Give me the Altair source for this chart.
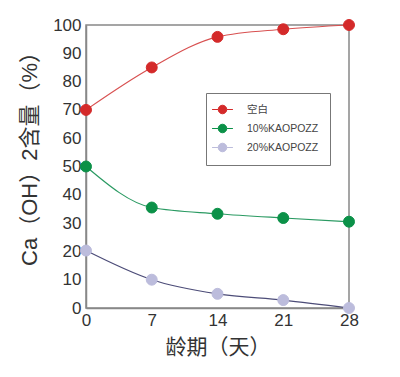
import altair as alt
import pandas as pd

days = [0, 7, 14, 21, 28]
series_names = ["空白", "10%KAOPOZZ", "20%KAOPOZZ"]
blank = [70, 85, 95.8, 98.5, 100]
kao10 = [50, 35.5, 33.3, 31.8, 30.5]
kao20 = [20.3, 10, 5, 2.8, 0]
point_colors = ["#d42a2a", "#0b9148", "#bcbcdc"]
line_colors = ["#d85050", "#2a9a62", "#4c4c78"]

rows = []
for name, vals in zip(series_names, [blank, kao10, kao20]):
    for d, v in zip(days, vals):
        rows.append({"day": d, "value": v, "series": name})
df = pd.DataFrame(rows)

font = "Liberation Sans, Noto Sans CJK SC"

x = alt.X("day:Q", scale=alt.Scale(domain=[0, 28], nice=False),
          axis=alt.Axis(values=days, title="龄期（天）", grid=False, ticks=False,
                        labelFontSize=17, titleFontSize=21, labelPadding=4,
                        labelFlush=False, labelOverlap=False,
                        titlePadding=8, labelFont=font, titleFont=font,
                        labelColor="#333", titleColor="#333", domainColor="#888",
                        domainWidth=1.5, labelFontWeight="normal", titleFontWeight="normal"))
y = alt.Y("value:Q", scale=alt.Scale(domain=[0, 100], nice=False),
          axis=alt.Axis(values=list(range(0, 101, 10)), title="Ca（OH）2含量（%）",
                        grid=False, ticks=False, labelFontSize=17, titleFontSize=22,
                        labelFlush=False, labelOverlap=False,
                        labelPadding=5, titleX=-45, titleY=128, labelFont=font, titleFont=font,
                        labelColor="#333", titleColor="#333", domainColor="#888",
                        domainWidth=1.5, titleFontWeight="normal"))

lines = alt.Chart(df).mark_line(interpolate="monotone", strokeWidth=1.2).encode(
    x=x, y=y,
    color=alt.Color("series:N", scale=alt.Scale(domain=series_names, range=line_colors), legend=None),
    detail="series:N",
)

leg = dict(title=None, orient="none", legendX=120, legendY=68,
           symbolType="M-2.2,0H-0.9 M0.9,0H2.2 M-0.9,0A0.9,0.9 0 1,1 0.9,0A0.9,0.9 0 1,1 -0.9,0",
           symbolSize=90, symbolStrokeWidth=1,
           labelFontSize=10.5, labelFont=font, labelColor="#444",
           rowPadding=6, padding=11, strokeColor="#777",
           fillColor="white", labelOffset=19)

points = alt.Chart(df).mark_point(filled=True, size=120, opacity=1, strokeWidth=1).encode(
    x=x, y=y,
    fill=alt.Fill("series:N", sort=series_names,
                  scale=alt.Scale(domain=series_names, range=point_colors),
                  legend=alt.Legend(**leg)),
    stroke=alt.Stroke("series:N", sort=series_names,
                      scale=alt.Scale(domain=series_names, range=point_colors),
                      legend=alt.Legend(**leg)),
)

chart = alt.layer(lines, points).resolve_scale(color="independent").properties(
    width=263, height=283,
    padding={"left": 78, "top": 17, "right": 43, "bottom": 61},
    autosize=alt.AutoSizeParams(type="none"),
).configure_view(stroke="#888", strokeWidth=1.5)

chart.save("out.html", embed_options={"renderer": "svg", "actions": False})
